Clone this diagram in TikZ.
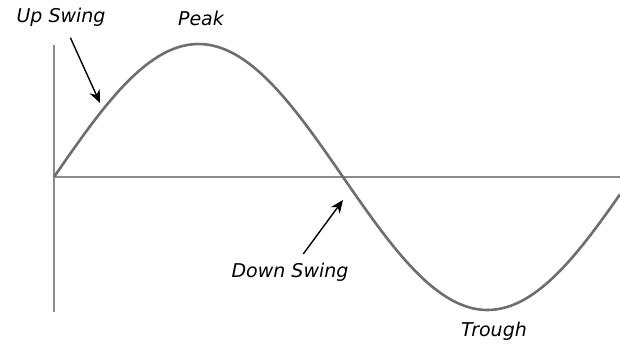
\documentclass[tikz,border=0pt]{standalone}
\usepackage{fontspec}
\setmainfont{DejaVu Sans}
\usepackage{tikz}
\usetikzlibrary{arrows.meta}
\definecolor{axisc}{HTML}{8A8A8A}
\definecolor{wavec}{HTML}{6E6E6E}

\begin{document}
\begin{tikzpicture}[x=0.5pt,y=-0.5pt,
    lbl/.style={font=\fontsize{9.5}{11}\selectfont\itshape, inner sep=1pt},
    arr/.style={-{Stealth[length=6.5pt,width=5.5pt]}, line width=0.7pt, black}]
    \useasboundingbox (0,0) rectangle (620,345);
    % axes
    \coordinate (o) at (54,177);
    \draw[axisc, line width=1.4pt] (54,45) -- (54,312);
    \draw[axisc, line width=1.4pt] (o) -- (620,177);
    % wave
    \draw[wavec, line width=1.3pt, domain=54:620, samples=120]
      plot (\x, {177-133*sin((\x-54)/578*360)});
    % labels
    \foreach \name/\txt/\x/\y in {%
      up/Up Swing/61/17, peak/Peak/201/18,
      down/Down Swing/290/272, trough/Trough/494/331}{
      \node[lbl] (\name) at (\x,\y) {\txt};}
    \coordinate (upTip) at (100,103);
    \coordinate (downTip) at (343,200);
    \draw[arr, shorten <=5pt] (up) -- (upTip);
    \draw[arr, shorten <=4pt] (down) -- (downTip);
\end{tikzpicture}
\end{document}
